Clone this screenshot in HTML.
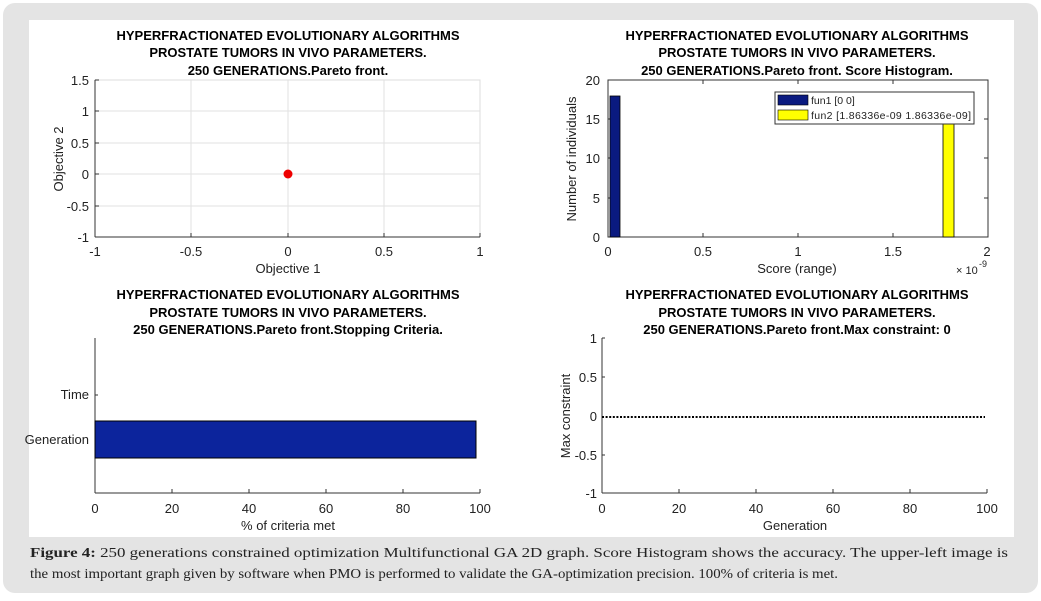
<!DOCTYPE html>
<html><head><style>
body{margin:0;background:#fff;}
svg text{font-family:"Liberation Sans",Arial,sans-serif;}
svg text.cap{font-family:"Liberation Serif",serif;}
</style></head><body>
<svg width="1041" height="596" viewBox="0 0 1041 596" xmlns="http://www.w3.org/2000/svg">
<rect x="3" y="3" width="1035" height="590" rx="12" fill="#e4e4e4"/>
<rect x="29" y="20" width="985" height="517" fill="#fff"/>
<g font-size="13" font-weight="bold" text-anchor="middle" fill="#000">
<text x="288" y="40">HYPERFRACTIONATED EVOLUTIONARY ALGORITHMS</text>
<text x="288" y="57">PROSTATE TUMORS IN VIVO PARAMETERS.</text>
<text x="288" y="75">250 GENERATIONS.Pareto front.</text>
<text x="797" y="40">HYPERFRACTIONATED EVOLUTIONARY ALGORITHMS</text>
<text x="797" y="57">PROSTATE TUMORS IN VIVO PARAMETERS.</text>
<text x="797" y="75">250 GENERATIONS.Pareto front. Score Histogram.</text>
<text x="288" y="299">HYPERFRACTIONATED EVOLUTIONARY ALGORITHMS</text>
<text x="288" y="317">PROSTATE TUMORS IN VIVO PARAMETERS.</text>
<text x="288" y="334">250 GENERATIONS.Pareto front.Stopping Criteria.</text>
<text x="797" y="299">HYPERFRACTIONATED EVOLUTIONARY ALGORITHMS</text>
<text x="797" y="317">PROSTATE TUMORS IN VIVO PARAMETERS.</text>
<text x="797" y="334">250 GENERATIONS.Pareto front.Max constraint: 0</text>
</g>
<!-- Plot 1 -->
<g stroke="#e2e2e2" stroke-width="1">
<line x1="191" y1="80" x2="191" y2="237"/><line x1="288" y1="80" x2="288" y2="237"/><line x1="384" y1="80" x2="384" y2="237"/>
<line x1="95" y1="111" x2="480" y2="111"/><line x1="95" y1="143" x2="480" y2="143"/><line x1="95" y1="174" x2="480" y2="174"/><line x1="95" y1="206" x2="480" y2="206"/>
</g>
<rect x="95" y="80" width="385" height="157" fill="none" stroke="#ddd"/>
<line x1="95" y1="80" x2="95" y2="237" stroke="#333"/><line x1="95" y1="237" x2="480" y2="237" stroke="#333"/>
<g stroke="#333">
<line x1="95" y1="80" x2="99" y2="80"/><line x1="95" y1="111" x2="99" y2="111"/><line x1="95" y1="143" x2="99" y2="143"/><line x1="95" y1="174" x2="99" y2="174"/><line x1="95" y1="206" x2="99" y2="206"/>
<line x1="191" y1="237" x2="191" y2="233"/><line x1="288" y1="237" x2="288" y2="233"/><line x1="384" y1="237" x2="384" y2="233"/><line x1="480" y1="237" x2="480" y2="233"/>
</g>
<circle cx="288" cy="174" r="4.5" fill="#e00"/>
<g font-size="13" fill="#222" text-anchor="end">
<text x="89" y="85">1.5</text><text x="89" y="116">1</text><text x="89" y="148">0.5</text><text x="89" y="179">0</text><text x="89" y="211">-0.5</text><text x="89" y="242">-1</text>
</g>
<g font-size="13" fill="#222" text-anchor="middle">
<text x="95" y="256">-1</text><text x="191" y="256">-0.5</text><text x="288" y="256">0</text><text x="384" y="256">0.5</text><text x="480" y="256">1</text>
<text x="288" y="273">Objective 1</text>
<text transform="translate(63,159) rotate(-90)">Objective 2</text>
</g>
<!-- Plot 2 -->
<rect x="608" y="80" width="380" height="157" fill="none" stroke="#333"/>
<g stroke="#333">
<line x1="608" y1="119" x2="612" y2="119"/><line x1="608" y1="158" x2="612" y2="158"/><line x1="608" y1="198" x2="612" y2="198"/>
<line x1="988" y1="119" x2="984" y2="119"/><line x1="988" y1="158" x2="984" y2="158"/><line x1="988" y1="198" x2="984" y2="198"/>
<line x1="703" y1="237" x2="703" y2="233"/><line x1="798" y1="237" x2="798" y2="233"/><line x1="893" y1="237" x2="893" y2="233"/>
<line x1="703" y1="80" x2="703" y2="84"/><line x1="798" y1="80" x2="798" y2="84"/><line x1="893" y1="80" x2="893" y2="84"/>
</g>
<rect x="610" y="96" width="10" height="141" fill="#0a1a80" stroke="#000" stroke-width="0.8"/>
<rect x="943" y="122" width="11" height="115" fill="#ffff00" stroke="#000" stroke-width="0.8"/>
<rect x="775" y="92" width="199" height="32" fill="#fff" stroke="#333"/>
<rect x="778" y="95" width="30" height="10" fill="#0a1a80" stroke="#000" stroke-width="0.6"/>
<rect x="778" y="110" width="30" height="10" fill="#ffff00" stroke="#000" stroke-width="0.6"/>
<g font-size="10.5" fill="#222"><text x="811" y="104">fun1 [0  0]</text><text x="811" y="119" textLength="160">fun2 [1.86336e-09  1.86336e-09]</text></g>
<g font-size="13" fill="#222" text-anchor="end">
<text x="600" y="85">20</text><text x="600" y="124">15</text><text x="600" y="163">10</text><text x="600" y="203">5</text><text x="600" y="242">0</text>
</g>
<g font-size="13" fill="#222" text-anchor="middle">
<text x="608" y="256">0</text><text x="703" y="256">0.5</text><text x="798" y="256">1</text><text x="893" y="256">1.5</text><text x="987" y="256">2</text>
<text x="797" y="273">Score (range)</text>
<text transform="translate(576,159) rotate(-90)">Number of individuals</text>
</g>
<text x="956" y="274" font-size="11" fill="#222">× 10</text><text x="979" y="267" font-size="9" fill="#222">-9</text>
<!-- Plot 3 -->
<line x1="95" y1="338" x2="95" y2="493" stroke="#333"/><line x1="95" y1="493" x2="480" y2="493" stroke="#333"/>
<g stroke="#333">
<line x1="172" y1="493" x2="172" y2="489"/><line x1="249" y1="493" x2="249" y2="489"/><line x1="326" y1="493" x2="326" y2="489"/><line x1="403" y1="493" x2="403" y2="489"/><line x1="480" y1="493" x2="480" y2="489"/>
<line x1="95" y1="395" x2="98" y2="395"/><line x1="95" y1="440" x2="98" y2="440"/>
</g>
<rect x="95" y="421" width="381" height="37" fill="#0c249c" stroke="#000"/>
<g font-size="13" fill="#222" text-anchor="end"><text x="89" y="399">Time</text><text x="89" y="444">Generation</text></g>
<g font-size="13" fill="#222" text-anchor="middle">
<text x="95" y="513">0</text><text x="172" y="513">20</text><text x="249" y="513">40</text><text x="326" y="513">60</text><text x="403" y="513">80</text><text x="480" y="513">100</text>
<text x="288" y="530">% of criteria met</text>
</g>
<!-- Plot 4 -->
<line x1="602" y1="338" x2="602" y2="493" stroke="#333"/><line x1="602" y1="493" x2="987" y2="493" stroke="#333"/>
<g stroke="#333">
<line x1="679" y1="493" x2="679" y2="489"/><line x1="756" y1="493" x2="756" y2="489"/><line x1="833" y1="493" x2="833" y2="489"/><line x1="910" y1="493" x2="910" y2="489"/><line x1="987" y1="493" x2="987" y2="489"/>
<line x1="602" y1="338" x2="605" y2="338"/><line x1="602" y1="377" x2="605" y2="377"/><line x1="602" y1="455" x2="605" y2="455"/>
</g>
<line x1="602" y1="417" x2="985" y2="417" stroke="#000" stroke-width="2" stroke-dasharray="2,1.6"/>
<g font-size="13" fill="#222" text-anchor="end">
<text x="597" y="343">1</text><text x="597" y="382">0.5</text><text x="597" y="421">0</text><text x="597" y="460">-0.5</text><text x="597" y="498">-1</text>
</g>
<g font-size="13" fill="#222" text-anchor="middle">
<text x="602" y="513">0</text><text x="679" y="513">20</text><text x="756" y="513">40</text><text x="833" y="513">60</text><text x="910" y="513">80</text><text x="987" y="513">100</text>
<text x="795" y="530">Generation</text>
<text transform="translate(570,416) rotate(-90)">Max constraint</text>
</g>
<!-- caption -->
<g font-size="14" fill="#222">
<text class="cap" x="30" y="557" textLength="978" lengthAdjust="spacingAndGlyphs"><tspan font-weight="bold">Figure 4:</tspan> 250 generations constrained optimization Multifunctional GA 2D graph. Score Histogram shows the accuracy. The upper-left image is</text>
<text class="cap" x="30" y="578" textLength="808" lengthAdjust="spacingAndGlyphs">the most important graph given by software when PMO is performed to validate the GA-optimization precision. 100% of criteria is met.</text>
</g>
</svg>
</body></html>
